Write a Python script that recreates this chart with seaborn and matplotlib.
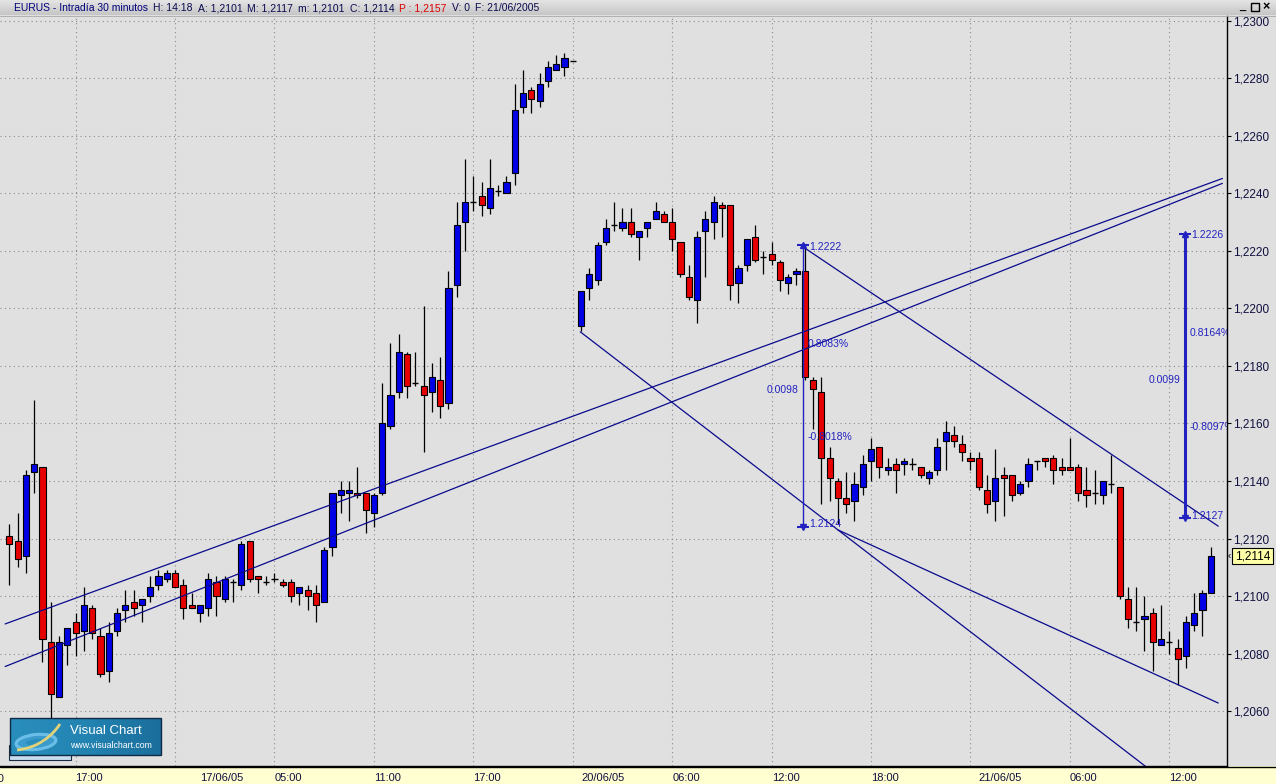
import numpy as np
import pandas as pd
import matplotlib
matplotlib.use("Agg")
import matplotlib.pyplot as plt
import seaborn as sns
from matplotlib.patches import Rectangle, Ellipse, PathPatch
from matplotlib.path import Path
from matplotlib.colors import LinearSegmentedColormap

# ---------------- data (EURUS, 30-minute candles) ----------------
opens = [1.2121, 1.2119, 1.2114, 1.2143, 1.2145, 1.2084, 1.2065, 1.2083, 1.2091, 1.2088,
         1.2096, 1.2086, 1.2074, 1.2088, 1.2095, 1.2098, 1.2097, 1.2100, 1.2104, 1.2106,
         1.2108, 1.2104, 1.2097, 1.2094, 1.2096, 1.2105, 1.2099, 1.2105, 1.2104, 1.2119,
         1.2107, 1.2105, 1.2106, 1.2105, 1.2105, 1.2101, 1.2102, 1.2101, 1.2098, 1.2117,
         1.2135, 1.2136, 1.2136, 1.2136, 1.2129, 1.2136, 1.2159, 1.2171, 1.2184, 1.2174,
         1.2173, 1.2171, 1.2175, 1.2167, 1.2208, 1.2230, 1.2237, 1.2239, 1.2235, 1.2241,
         1.2240, 1.2247, 1.2270, 1.2276, 1.2272, 1.2279, 1.2283, 1.2284, 1.2286, 1.2194,
         1.2207, 1.2210, 1.2223, 1.2229, 1.2228, 1.2230, 1.2225, 1.2228, 1.2231, 1.2233,
         1.2230, 1.2223, 1.2211, 1.2203, 1.2227, 1.2230, 1.2236, 1.2236, 1.2209, 1.2215,
         1.2225, 1.2218, 1.2219, 1.2216, 1.2209, 1.2212, 1.2213, 1.2175, 1.2171, 1.2148,
         1.2140, 1.2134, 1.2133, 1.2138, 1.2147, 1.2152, 1.2144, 1.2146, 1.2146, 1.2146,
         1.2145, 1.2141, 1.2144, 1.2154, 1.2156, 1.2153, 1.2148, 1.2148, 1.2137, 1.2133,
         1.2142, 1.2142, 1.2136, 1.2140, 1.2147, 1.2148, 1.2148, 1.2145, 1.2145, 1.2145,
         1.2137, 1.2136, 1.2135, 1.2139, 1.2138, 1.2099, 1.2091, 1.2092, 1.2094, 1.2083,
         1.2084, 1.2082, 1.2079, 1.2090, 1.2095, 1.2101]
highs = [1.2125, 1.2129, 1.2144, 1.2168, 1.2145, 1.2098, 1.2086, 1.2089, 1.2094, 1.2103,
         1.2097, 1.2089, 1.2091, 1.2096, 1.2102, 1.2102, 1.2099, 1.2107, 1.2109, 1.2109,
         1.2109, 1.2106, 1.2101, 1.2097, 1.2108, 1.2107, 1.2107, 1.2106, 1.2119, 1.2119,
         1.2107, 1.2107, 1.2108, 1.2106, 1.2106, 1.2103, 1.2104, 1.2104, 1.2117, 1.2136,
         1.2140, 1.2140, 1.2145, 1.2136, 1.2136, 1.2174, 1.2188, 1.2191, 1.2185, 1.2185,
         1.2201, 1.2181, 1.2183, 1.2213, 1.2237, 1.2252, 1.2246, 1.2244, 1.2252, 1.2243,
         1.2246, 1.2278, 1.2283, 1.2277, 1.2282, 1.2286, 1.2288, 1.2289, 1.2286, 1.2206,
         1.2214, 1.2223, 1.2231, 1.2237, 1.2235, 1.2235, 1.2227, 1.2230, 1.2237, 1.2234,
         1.2235, 1.2223, 1.2215, 1.2227, 1.2234, 1.2239, 1.2237, 1.2236, 1.2215, 1.2224,
         1.2229, 1.2220, 1.2223, 1.2217, 1.2212, 1.2214, 1.2222, 1.2176, 1.2176, 1.2152,
         1.2141, 1.2143, 1.2143, 1.2149, 1.2155, 1.2152, 1.2148, 1.2148, 1.2148, 1.2148,
         1.2145, 1.2144, 1.2155, 1.2161, 1.2159, 1.2156, 1.2150, 1.2150, 1.2142, 1.2151,
         1.2145, 1.2142, 1.2140, 1.2148, 1.2147, 1.2148, 1.2149, 1.2148, 1.2155, 1.2146,
         1.2145, 1.2144, 1.2140, 1.2149, 1.2138, 1.2103, 1.2103, 1.2100, 1.2096, 1.2097,
         1.2088, 1.2085, 1.2093, 1.2101, 1.2102, 1.2117]
lows = [1.2104, 1.2110, 1.2108, 1.2136, 1.2077, 1.2057, 1.2065, 1.2076, 1.2079, 1.2081,
        1.2085, 1.2072, 1.2070, 1.2086, 1.2091, 1.2093, 1.2091, 1.2098, 1.2102, 1.2105,
        1.2103, 1.2092, 1.2096, 1.2091, 1.2093, 1.2093, 1.2098, 1.2098, 1.2102, 1.2105,
        1.2101, 1.2104, 1.2105, 1.2103, 1.2098, 1.2097, 1.2095, 1.2091, 1.2098, 1.2114,
        1.2129, 1.2126, 1.2134, 1.2122, 1.2124, 1.2135, 1.2158, 1.2169, 1.2169, 1.2173,
        1.2150, 1.2164, 1.2162, 1.2165, 1.2204, 1.2220, 1.2234, 1.2232, 1.2233, 1.2239,
        1.2240, 1.2243, 1.2268, 1.2268, 1.2270, 1.2277, 1.2283, 1.2281, 1.2286, 1.2192,
        1.2203, 1.2208, 1.2222, 1.2227, 1.2227, 1.2225, 1.2217, 1.2225, 1.2231, 1.2230,
        1.2220, 1.2211, 1.2203, 1.2195, 1.2211, 1.2224, 1.2225, 1.2203, 1.2202, 1.2213,
        1.2216, 1.2212, 1.2215, 1.2206, 1.2205, 1.2208, 1.2175, 1.2158, 1.2132, 1.2133,
        1.2125, 1.2129, 1.2126, 1.2135, 1.2140, 1.2141, 1.2142, 1.2136, 1.2142, 1.2144,
        1.2141, 1.2139, 1.2142, 1.2144, 1.2152, 1.2147, 1.2144, 1.2137, 1.2129, 1.2126,
        1.2128, 1.2133, 1.2135, 1.2138, 1.2144, 1.2145, 1.2139, 1.2142, 1.2144, 1.2133,
        1.2131, 1.2132, 1.2132, 1.2136, 1.2099, 1.2089, 1.2088, 1.2081, 1.2074, 1.2083,
        1.2080, 1.2069, 1.2075, 1.2088, 1.2086, 1.2101]
closes = [1.2118, 1.2113, 1.2142, 1.2146, 1.2085, 1.2066, 1.2084, 1.2089, 1.2087, 1.2097,
          1.2087, 1.2073, 1.2087, 1.2094, 1.2097, 1.2096, 1.2099, 1.2103, 1.2107, 1.2108,
          1.2103, 1.2096, 1.2096, 1.2097, 1.2106, 1.2100, 1.2106, 1.2105, 1.2118, 1.2106,
          1.2106, 1.2105, 1.2106, 1.2104, 1.2100, 1.2103, 1.2100, 1.2097, 1.2116, 1.2136,
          1.2137, 1.2137, 1.2135, 1.2130, 1.2135, 1.2160, 1.2170, 1.2185, 1.2173, 1.2174,
          1.2170, 1.2176, 1.2166, 1.2207, 1.2229, 1.2237, 1.2237, 1.2236, 1.2242, 1.2241,
          1.2244, 1.2269, 1.2275, 1.2273, 1.2278, 1.2284, 1.2285, 1.2287, 1.2286, 1.2206,
          1.2212, 1.2222, 1.2228, 1.2229, 1.2230, 1.2226, 1.2227, 1.2230, 1.2234, 1.2230,
          1.2224, 1.2212, 1.2204, 1.2225, 1.2231, 1.2237, 1.2235, 1.2208, 1.2214, 1.2224,
          1.2217, 1.2218, 1.2217, 1.2210, 1.2211, 1.2213, 1.2176, 1.2172, 1.2148, 1.2141,
          1.2134, 1.2132, 1.2139, 1.2146, 1.2151, 1.2145, 1.2145, 1.2144, 1.2147, 1.2146,
          1.2142, 1.2143, 1.2152, 1.2157, 1.2154, 1.2150, 1.2147, 1.2138, 1.2132, 1.2141,
          1.2141, 1.2135, 1.2139, 1.2146, 1.2147, 1.2147, 1.2144, 1.2144, 1.2144, 1.2136,
          1.2135, 1.2136, 1.2140, 1.2139, 1.2100, 1.2092, 1.2091, 1.2093, 1.2084, 1.2085,
          1.2084, 1.2078, 1.2091, 1.2094, 1.2101, 1.2114]

grid_ticks = [8, 20, 32, 44, 56, 68, 80, 92, 104, 116, 128, 140]
grid_labels = ["17:00", "", "05:00", "11:00", "17:00", "", "06:00", "12:00", "18:00", "", "06:00", "12:00"]
day_ticks = [23, 69, 117]
day_labels = ["17/06/05", "20/06/05", "21/06/05"]
price_ticks = [1.2060, 1.2080, 1.2100, 1.2120, 1.2140, 1.2160, 1.2180, 1.2200,
               1.2220, 1.2240, 1.2260, 1.2280, 1.2300]

# drawn trend lines: (start bar, end bar), (start price, end price)
trend_x = [(-0.5, 146.4), (-0.5, 146.4), (68.9, 137.7), (100.0, 145.9), (95.8, 145.9)]
trend_y = [(1.20903, 1.22452), (1.20755, 1.22435), (1.21919, 1.20395),
           (1.21230, 1.20628), (1.22214, 1.21243)]

# measuring tools
measure_x = [95.8, 141.9]
measure_hi = [1.2222, 1.2226]
measure_lo = [1.2124, 1.2127]

last_price = 1.2114
header_parts = ["EURUS - Intradía 30 minutos", "H: 14:18", "A: 1,2101", "M: 1,2117",
                "m: 1,2101", "C: 1,2114", "P : 1,2157", "V: 0", "F: 21/06/2005"]

# ---------------- styling / layout ----------------
sns.set_style("white")
plt.rcParams['font.family'] = ['Liberation Sans', 'DejaVu Sans']

FIG_W, FIG_H = 1276, 784
PLOT_R, PLOT_T, PLOT_B = 1227, 16, 766
FIRST_PX, STEP_PX = 9.3, 8.286
Y_TOP, Y_BOT = 1.23017, 1.20409

BG = '#E0E0E0'
NAVY = '#0A0A8C'
MEAS = '#2222C0'
AXTXT = '#101040'

fig = plt.figure(figsize=(FIG_W / 100, FIG_H / 100), dpi=100)
fig.patch.set_facecolor('#DFDFDF')
fig.patches.append(Rectangle((0, 0), 1, (FIG_H - PLOT_B) / FIG_H, transform=fig.transFigure,
                             facecolor='#FFFFD2', edgecolor='none', zorder=-5))

ax = fig.add_axes([0, (FIG_H - PLOT_B) / FIG_H, PLOT_R / FIG_W, (PLOT_B - PLOT_T) / FIG_H])
ax.set_facecolor(BG)

o = np.array(opens); h = np.array(highs); l = np.array(lows); c = np.array(closes)
idx = np.arange(len(o))
doji = np.isclose(o, c)
up = (c > o) & ~doji
dn = (c < o) & ~doji

ax.vlines(idx, l, h, color='black', lw=0.9, zorder=3)
bw = 0.74
ax.bar(idx[up], (c - o)[up], bottom=o[up], width=bw, color='#0000E6',
       edgecolor='black', lw=0.8, zorder=4)
ax.bar(idx[dn], (o - c)[dn], bottom=c[dn], width=bw, color='#E60000',
       edgecolor='black', lw=0.8, zorder=4)
ax.hlines(o[doji], idx[doji] - bw / 2, idx[doji] + bw / 2, color='black', lw=1.0, zorder=4)

for xs, ys in zip(trend_x, trend_y):
    sns.lineplot(x=list(xs), y=list(ys), ax=ax, color=NAVY, linewidth=0.9, zorder=5)

# measuring tools
for k, (mx, mh, ml) in enumerate(zip(measure_x, measure_hi, measure_lo)):
    lw = 1.0 if k == 0 else 2.2
    ax.vlines(mx, ml, mh, color=MEAS, lw=lw, zorder=6)
    ax.plot([mx], [mh], marker='^', ms=4.5, color=MEAS, zorder=6, lw=0)
    ax.plot([mx], [ml], marker='v', ms=4.5, color=MEAS, zorder=6, lw=0)
    ax.plot([mx], [mh], marker='_', ms=8, mew=1.5, color=MEAS, zorder=6, lw=0)
    ax.plot([mx], [ml], marker='_', ms=8, mew=1.5, color=MEAS, zorder=6, lw=0)
    diff = mh - ml
    kw = dict(textcoords='offset points', fontsize=7.5, color=MEAS, va='center',
              clip_on=True, zorder=7, annotation_clip=True)
    ax.annotate(f"{mh:.4f}", xy=(mx, mh), xytext=(4.5, -1), ha='left', **kw)
    ax.annotate(f"{ml:.4f}", xy=(mx, ml), xytext=(4.5, 2), ha='left', **kw)
    ax.annotate(f"{diff / ml * 100:.4f}%", xy=(mx, mh - 0.35 * diff), xytext=(3.5, 0), ha='left', **kw)
    ax.annotate(f"{-diff / mh * 100:.4f}%", xy=(mx, mh - 0.68 * diff), xytext=(3.5, 0), ha='left', **kw)
    ax.annotate(f"{diff:.4f}", xy=(mx, mh - 0.515 * diff), xytext=(-3, 0), ha='right', **kw)

# axes, ticks, grid
ax.set_xlim(-FIRST_PX / STEP_PX, (PLOT_R - FIRST_PX) / STEP_PX)
ax.set_ylim(Y_BOT, Y_TOP)
ax.yaxis.tick_right()
ax.set_yticks(price_ticks)
ax.set_yticklabels([f"{v:.4f}".replace('.', ',') for v in price_ticks])
ax.tick_params(axis='y', direction='out', length=3, width=0.8, pad=1.5,
               labelsize=8.5, colors='black', labelcolor=AXTXT)
ax.set_xticks(grid_ticks)
ax.set_xticklabels(grid_labels, ha='left')
ax.set_xticks(day_ticks, minor=True)
ax.set_xticklabels(day_labels, minor=True, ha='left')
ax.tick_params(axis='x', which='major', direction='out', length=3, width=0.8, pad=2,
               labelsize=8, colors='black', labelcolor=AXTXT)
ax.tick_params(axis='x', which='minor', direction='out', length=6.5, width=0.8, pad=-1.2,
               labelsize=8, colors='black', labelcolor=AXTXT)
ax.grid(True, which='major', ls=(0, (1, 3)), color='#8A8A8A', lw=0.8)
ax.set_axisbelow(True)
for s in ['left', 'top']:
    ax.spines[s].set_visible(False)
for s in ['right', 'bottom']:
    ax.spines[s].set_color('black')
    ax.spines[s].set_linewidth(1.0)
ax.set_xlabel('')
ax.set_ylabel('')

# ---------------- overlay in pixel coordinates ----------------
ov = fig.add_axes([0, 0, 1, 1], zorder=10)
ov.axis('off')

# header bar
hcmap = LinearSegmentedColormap.from_list('hdr', ['#E4E4E4', '#C6C6C6'])
ov.imshow(np.linspace(0, 1, 16).reshape(-1, 1), cmap=hcmap, extent=[0, FIG_W, 15, 0],
          aspect='auto', zorder=1)
ov.plot([0, FIG_W], [15.5, 15.5], color='#A8A8A8', lw=0.6, zorder=2)
renderer = fig.canvas.get_renderer()
xpos = 14
for part in header_parts:
    col = '#E00000' if part.startswith('P') else ('#00007A' if part.startswith('EURUS') else '#0A0A50')
    t = ov.text(xpos, 8, part, color=col, fontsize=7.5, va='center', ha='left', zorder=3)
    xpos += t.get_window_extent(renderer).width + 5
ov.text(1242, 7, "_", fontsize=8, ha='center', va='center', color='black', fontweight='bold', zorder=3)
ov.add_patch(Rectangle((1250.5, 3), 8, 8, fill=False, edgecolor='black', lw=1.0, zorder=3))
ov.text(1266, 7.5, "×", fontsize=9, ha='center', va='center', color='black', fontweight='bold', zorder=3)

# bottom axis line across the full width
ov.plot([0, FIG_W], [766.5, 766.5], color='black', lw=1.0, zorder=2)
ov.text(-23, 774, "11:00", fontsize=8, color=AXTXT, ha='left', va='top', zorder=3)

# last price tag
ov.add_patch(Rectangle((1232, 548), 41, 16, facecolor='#FFFFA8', edgecolor='black', lw=0.8, zorder=3))
ov.text(1252.5, 556.5, f"{last_price:.4f}".replace('.', ','), fontsize=8.5, ha='center',
        va='center', color='black', zorder=4)
ov.text(1229.5, 556, "‹", fontsize=7, ha='center', va='center', color='black', zorder=4)

# Visual Chart logo
ov.add_patch(Rectangle((9, 745), 62, 15, facecolor='#C9DDF0', edgecolor='#1A2A40', lw=0.8, zorder=3))
lcmap = LinearSegmentedColormap.from_list('logo', ['#2A8EBC', '#2384B2', '#1B6E9C'])
ov.imshow(np.linspace(0, 1, 64).reshape(1, -1), cmap=lcmap, extent=[10, 161, 755, 718],
          aspect='auto', zorder=4)
ov.add_patch(Rectangle((10, 718), 151, 37, fill=False, edgecolor='#0E2A44', lw=1.0, zorder=5))
ov.add_patch(Ellipse((36, 742), 40, 15, angle=-6, facecolor='#3E9FD0', edgecolor='#76C6EE',
                     lw=2.2, alpha=0.85, zorder=5))
ov.add_patch(Ellipse((36, 742), 20, 6, angle=-6, facecolor='#2A8EBC', edgecolor='none', zorder=5))
swoosh = Path([(17, 750), (38, 748), (52, 736), (60, 724)],
              [Path.MOVETO, Path.CURVE4, Path.CURVE4, Path.CURVE4])
ov.add_patch(PathPatch(swoosh, facecolor='none', edgecolor='#E2D27A', lw=2.0, zorder=6))
ov.text(70, 730.5, "Visual Chart", fontsize=9.5, color='white', ha='left', va='center', zorder=6)
ov.text(70, 745, "www.visualchart.com", fontsize=6.3, color='white', ha='left', va='center', zorder=6)

ov.set_xlim(0, FIG_W)
ov.set_ylim(FIG_H, 0)

fig.savefig("out.png", dpi=100, facecolor=fig.get_facecolor())
